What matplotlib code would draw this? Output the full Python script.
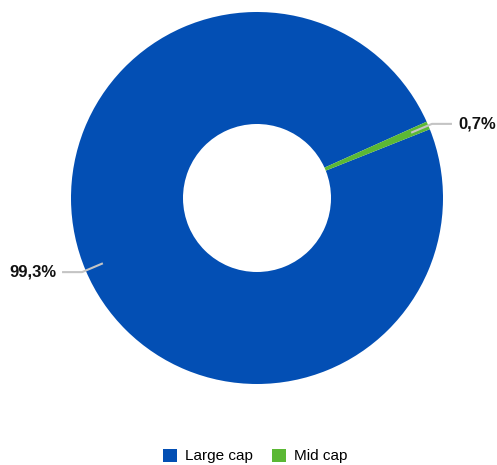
import numpy as np
import matplotlib
matplotlib.use("Agg")
import matplotlib.pyplot as plt

labels = ["Large cap", "Mid cap"]
values = [99.3, 0.7]
pct_labels = ["99,3%", "0,7%"]
colors = ["#034fb4", "#5bb834"]

plt.rcParams['font.family'] = ['Liberation Sans', 'DejaVu Sans']

fig = plt.figure(figsize=(4.97, 4.65), dpi=100)
ax = fig.add_axes([0, 0, 1, 1])

cx, cy, R, r_in = 257, 465 - 198, 186, 74   # pixel layout
wedges, _ = ax.pie(values, colors=colors, startangle=21.7, counterclock=False,
                   radius=R, center=(cx, cy),
                   wedgeprops=dict(width=R - r_in, linewidth=0))

# leader lines + labels
for w, txt in zip(wedges, pct_labels):
    ang = np.deg2rad((w.theta1 + w.theta2) / 2)
    c, s = np.cos(ang), np.sin(ang)
    x0, y0 = cx + 0.9 * R * c, cy + 0.9 * R * s
    x1, y1 = cx + (R + 4) * c, cy + (R + 4) * s
    sgn = 1 if c > 0 else -1
    x2 = x1 + sgn * 20
    ax.plot([x0, x1, x2], [y0, y1, y1], color="#c4c4c4", lw=1.5,
            solid_capstyle="butt", zorder=3)
    ax.text(x2 + sgn * 6, y1, txt, ha="left" if sgn > 0 else "right",
            va="center", fontsize=12, fontweight="bold", color="#111111")

ax.set_xlim(0, 497)
ax.set_ylim(0, 465)
ax.axis("off")

fig.legend(wedges, labels, loc="center", bbox_to_anchor=(255 / 497, 1 - 456 / 465),
           ncol=2, frameon=False, fontsize=11, handlelength=0.95, handleheight=0.95,
           handletextpad=0.5, columnspacing=1.25)

fig.savefig("out.png", dpi=100)
